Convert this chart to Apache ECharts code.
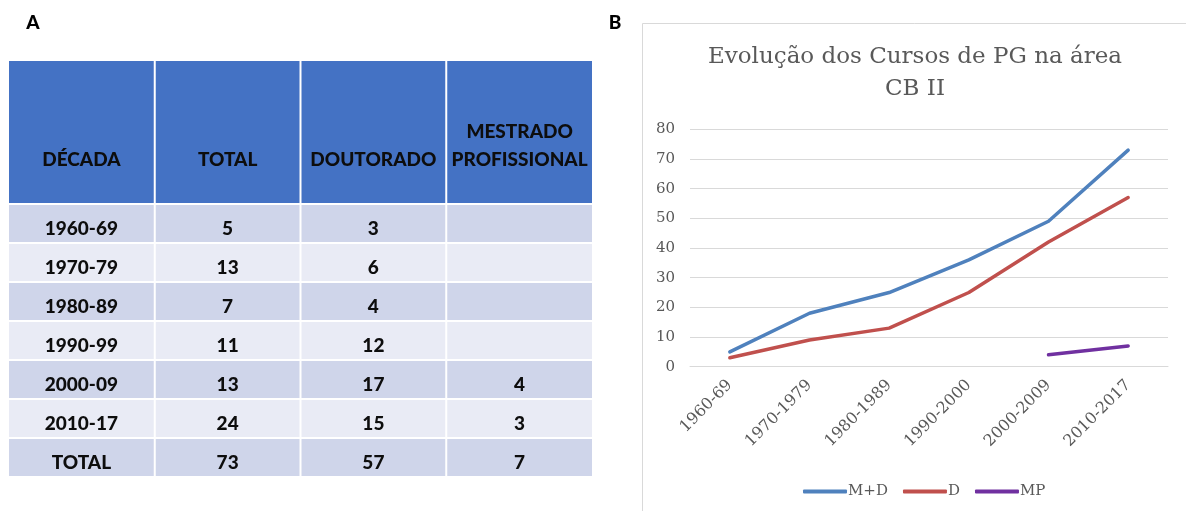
<!DOCTYPE html>
<html>
<head>
<meta charset="utf-8">
<script src="https://cdn.jsdelivr.net/npm/echarts@6/dist/echarts.min.js"></script>
<style>
  html, body { margin: 0; padding: 0; background: #ffffff; }
  #main { width: 1186px; height: 511px; }
</style>
</head>
<body>
<div id="main"></div>
<script>
// ---- Table (panel A) data ----
var tableHeaders = ['DÉCADA', 'TOTAL', 'DOUTORADO', 'MESTRADO\nPROFISSIONAL'];
var tableDecades = ['1960-69', '1970-79', '1980-89', '1990-99', '2000-09', '2010-17', 'TOTAL'];
var tableTotal = ['5', '13', '7', '11', '13', '24', '73'];
var tableDoutorado = ['3', '6', '4', '12', '17', '15', '57'];
var tableMestradoProf = ['', '', '', '', '4', '3', '7'];

// ---- Line chart (panel B) data ----
var chartTitle = 'Evolução dos Cursos de PG na área\nCB II';
var categories = ['1960-69', '1970-1979', '1980-1989', '1990-2000', '2000-2009', '2010-2017'];
var seriesMD = [5, 18, 25, 36, 49, 73];
var seriesD = [3, 9, 13, 25, 42, 57];
var seriesMP = [null, null, null, null, 4, 7];
var yTicks = [0, 10, 20, 30, 40, 50, 60, 70, 80];

var chart = echarts.init(document.getElementById('main'), null, { renderer: 'canvas' });

// Build table graphics from the arrays
var graphics = [];
var tLeft = 9, tRight = 592, headTop = 61, headBottom = 204, rowH = 39;
var colW = (tRight - tLeft) / 4;
var columns = [tableDecades, tableTotal, tableDoutorado, tableMestradoProf];
function cellX(c) {
  var x0 = tLeft + c * colW + (c > 0 ? 1 : 0);
  var x1 = tLeft + (c + 1) * colW - (c < 3 ? 1 : 0);
  return [x0, x1];
}
for (var c = 0; c < 4; c++) {
  var xs = cellX(c);
  graphics.push({
    type: 'rect', silent: true,
    shape: { x: xs[0], y: headTop, width: xs[1] - xs[0], height: headBottom - 1 - headTop },
    style: { fill: '#4472C4' }
  });
  graphics.push({
    type: 'text', silent: true, x: (xs[0] + xs[1]) / 2, y: 174,
    style: {
      text: tableHeaders[c], align: 'center', verticalAlign: 'bottom',
      fontFamily: 'Lato', fontWeight: 900, fontSize: 19, lineHeight: 28, fill: '#0d0d0d'
    }
  });
  for (var r = 0; r < tableDecades.length; r++) {
    var y0 = headBottom + r * rowH + 1;
    graphics.push({
      type: 'rect', silent: true,
      shape: { x: xs[0], y: y0, width: xs[1] - xs[0], height: rowH - 2 },
      style: { fill: (r % 2 === 0) ? '#CFD5EA' : '#E9EBF5' }
    });
    graphics.push({
      type: 'text', silent: true, x: (xs[0] + xs[1]) / 2, y: headBottom + r * rowH + rowH / 2 + 5,
      style: {
        text: columns[c][r], align: 'center', verticalAlign: 'middle',
        fontFamily: 'Lato', fontWeight: 900, fontSize: 19, fill: '#0d0d0d'
      }
    });
  }
}
// Panel letters
graphics.push({ type: 'text', silent: true, x: 33, y: 23,
  style: { text: 'A', align: 'center', verticalAlign: 'middle', fontFamily: 'Lato', fontWeight: 900, fontSize: 19, fill: '#000' } });
graphics.push({ type: 'text', silent: true, x: 615, y: 23,
  style: { text: 'B', align: 'center', verticalAlign: 'middle', fontFamily: 'Lato', fontWeight: 900, fontSize: 19, fill: '#000' } });
// Chart frame
graphics.push({ type: 'rect', silent: true, z: -1,
  shape: { x: 642.5, y: 23.5, width: 700, height: 700 },
  style: { fill: '#ffffff', stroke: '#D9D9D9', lineWidth: 1 } });
// Chart title
graphics.push({ type: 'text', silent: true, x: 915, y: 41,
  style: { text: chartTitle, align: 'center', verticalAlign: 'top', fontFamily: 'DejaVu Serif',
    fontSize: 23, lineHeight: 32, fill: '#595959' } });

var serifFont = 'DejaVu Serif';
var option = {
  animation: false,
  backgroundColor: '#ffffff',
  graphic: graphics,
  grid: { left: 690, right: 18, top: 129.3, bottom: 144.3, containLabel: false },
  xAxis: {
    type: 'category', data: categories, boundaryGap: true,
    axisLine: { show: true, lineStyle: { color: '#D9D9D9', width: 1 } },
    axisTick: { show: false },
    axisLabel: { rotate: 45, margin: 16, color: '#595959', fontFamily: serifFont, fontSize: 16 }
  },
  yAxis: {
    type: 'value', min: yTicks[0], max: yTicks[yTicks.length - 1], interval: 10,
    axisLine: { show: false }, axisTick: { show: false },
    axisLabel: { margin: 15, color: '#595959', fontFamily: serifFont, fontSize: 15 },
    splitLine: { show: true, lineStyle: { color: '#D9D9D9', width: 1 } }
  },
  legend: {
    left: 798, top: 479, itemWidth: 44, itemHeight: 4, itemGap: 15, icon: 'roundRect',
    textStyle: { color: '#595959', fontFamily: serifFont, fontSize: 15, padding: [0, 0, 0, -4] },
    data: ['M+D', 'D', 'MP']
  },
  series: [
    { name: 'M+D', type: 'line', data: seriesMD, symbol: 'none', color: '#4F81BD',
      lineStyle: { width: 3.5, color: '#4F81BD', cap: 'round', join: 'round' } },
    { name: 'D', type: 'line', data: seriesD, symbol: 'none', color: '#C0504D',
      lineStyle: { width: 3.5, color: '#C0504D', cap: 'round', join: 'round' } },
    { name: 'MP', type: 'line', data: seriesMP, symbol: 'none', color: '#7030A0',
      lineStyle: { width: 3.5, color: '#7030A0', cap: 'round', join: 'round' } }
  ]
};
chart.setOption(option);
</script>
</body>
</html>
